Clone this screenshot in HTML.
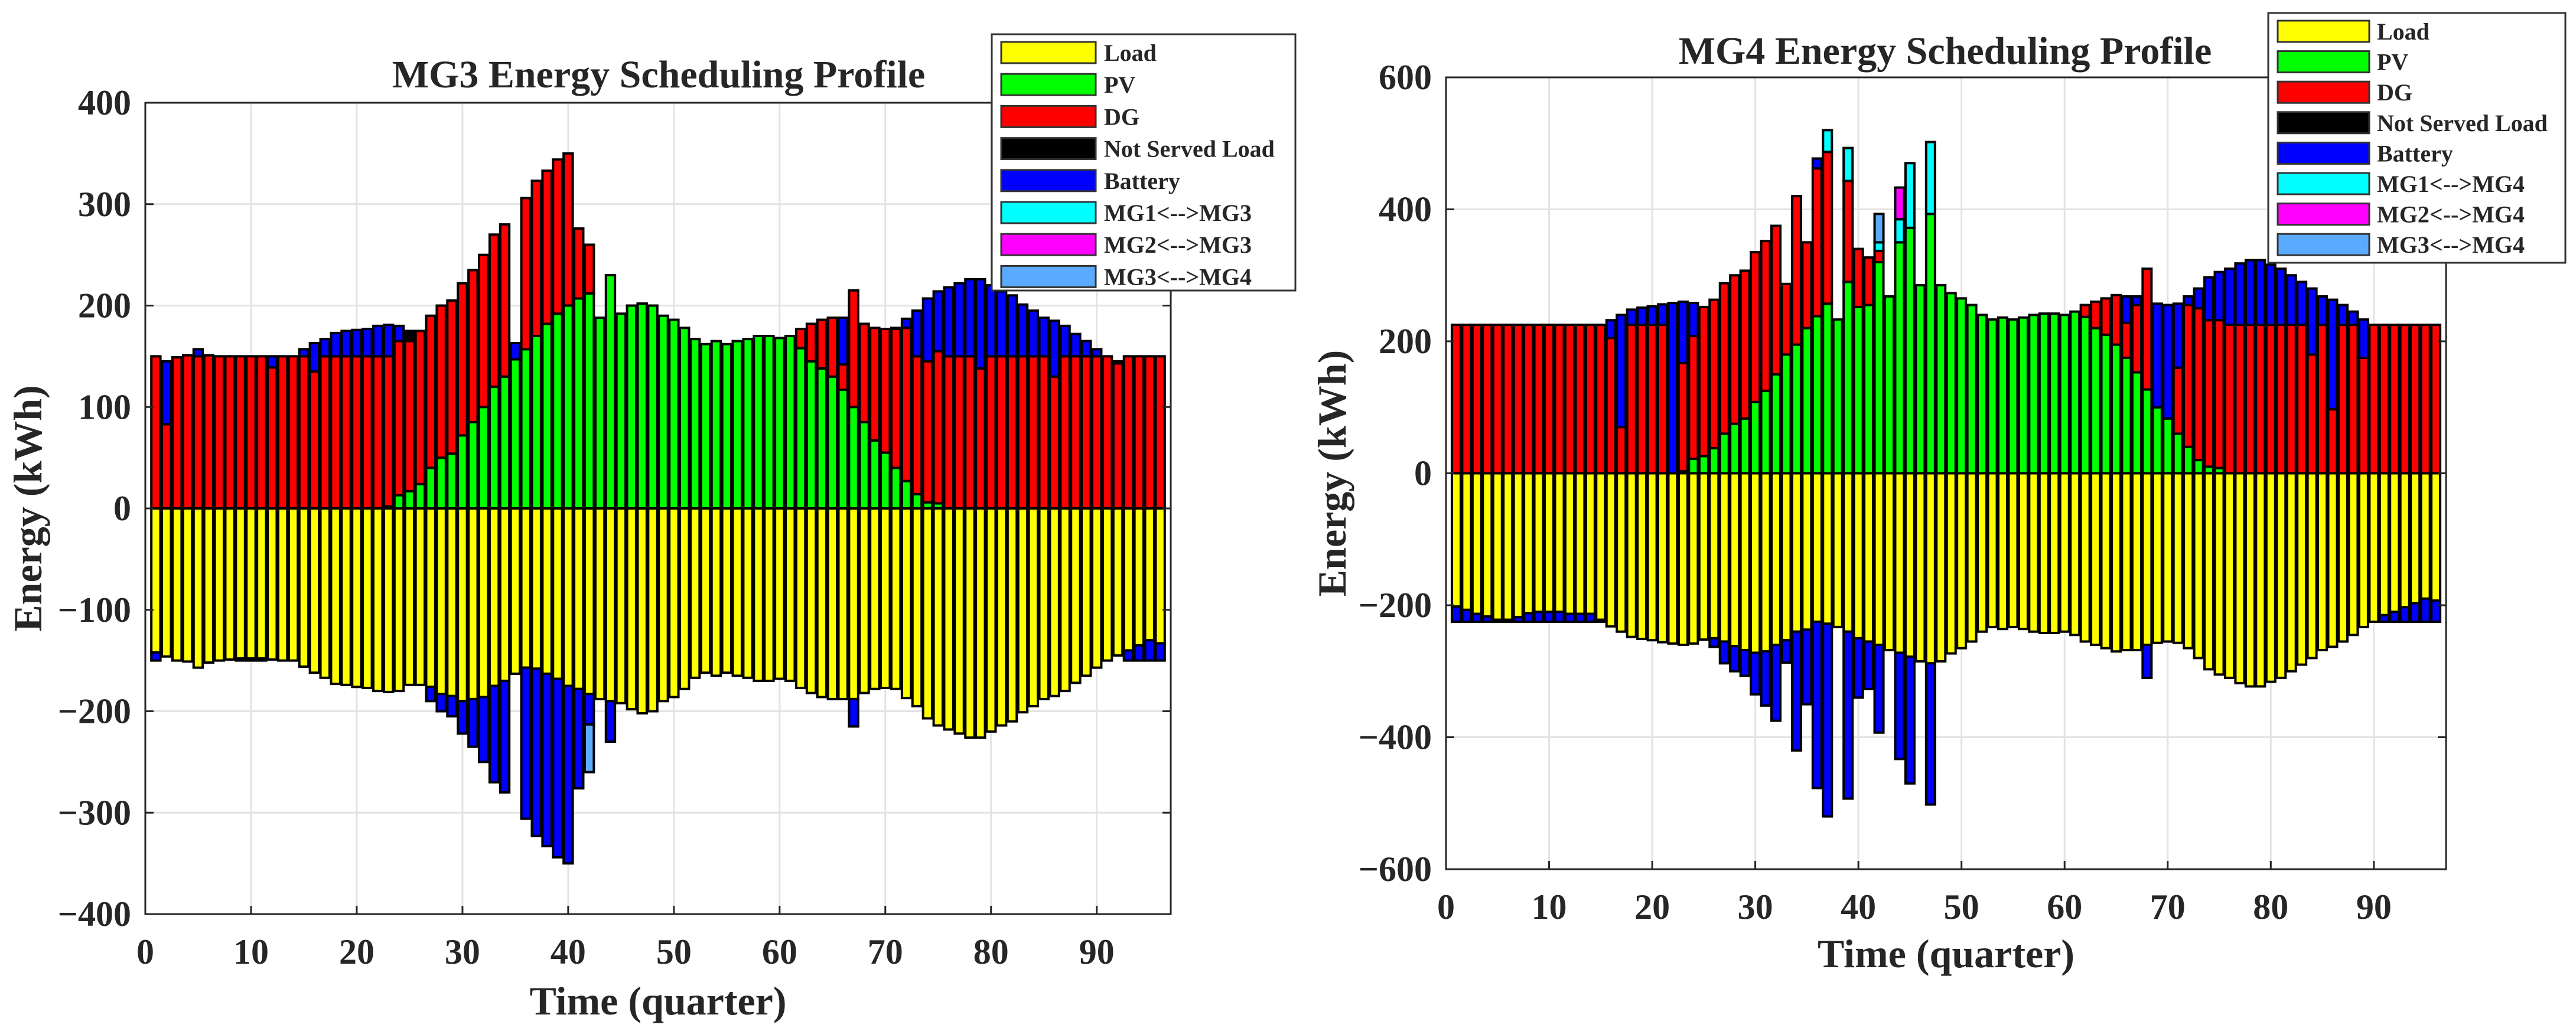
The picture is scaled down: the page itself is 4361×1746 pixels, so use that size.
<!DOCTYPE html>
<html><head><meta charset="utf-8"><style>
html,body{margin:0;padding:0;background:#fff}
svg{display:block}
text{font-family:"Liberation Serif",serif;font-weight:bold;fill:#262626}
</style></head><body>
<svg id="chart" width="4361" height="1746" viewBox="0 0 4361 1746" xmlns="http://www.w3.org/2000/svg">
<rect width="4361" height="1746" fill="#fff"/>
</svg>
<script>
// ---------- MG3 data ----------
const mg3PV=[0,0,0,0,0,0,0,0,0,0,0,0,0,0,0,0,0,0,0,0,0,0,2,13,17,24,40,50,54,72,85,100,120,130,147,157,170,182,192,200,207,212,188,230,192,200,202,200,190,186,178,167,162,165,162,165,167,170,170,168,170,158,145,138,130,117,100,85,67,55,40,27,14,6,5,0,0,0,0,0,0,0,0,0,0,0,0,0,0,0,0,0,0,0,0,0];
const mg3DG=[150,83,149,151,150,151,150,150,150,150,150,139,150,150,150,135,150,150,150,150,150,150,148,152,148,151,150,150,151,150,150,150,150,150,0,149,153,151,152,150,69,48,0,0,0,0,0,0,0,0,0,0,0,0,0,0,0,0,0,0,0,19,37,48,58,25,115,97,111,122,137,151,136,139,150,150,150,150,138,150,150,150,150,150,150,130,150,150,150,150,150,143,150,150,150,150];
const mg3NSL=[0,0,0,0,0,0,0,0,0,0,0,0,0,0,0,0,0,0,0,0,0,0,0,0,10,0,0,0,0,0,0,0,0,0,0,0,0,0,0,0,0,0,0,0,0,0,0,0,0,0,0,0,0,0,0,0,0,0,0,0,0,0,0,0,0,0,0,0,0,0,0,0,0,0,0,0,0,0,0,0,0,0,0,0,0,0,0,0,0,0,0,0,0,0,0,0];
const mg3BatPos=[0,62,0,0,7,0,0,0,0,0,0,11,0,0,7,28,17,23,25,26,27,30,31,15,0,0,0,0,0,0,0,0,0,0,16,0,0,0,0,0,0,0,0,0,0,0,0,0,0,0,0,0,0,0,0,0,0,0,0,0,0,0,0,0,0,46,0,0,0,0,1,9,45,62,59,68,72,76,88,70,64,60,51,45,38,55,30,22,15,7,0,2,0,0,0,0];
const mg3Load=[142,146,150,151,157,152,150,149,148,148,148,149,150,150,156,162,167,173,174,176,177,180,181,180,174,174,176,183,185,190,188,186,175,170,163,157,158,163,168,175,178,183,188,190,192,198,202,200,190,186,178,167,162,165,162,165,167,170,170,168,170,177,182,186,188,188,188,182,178,177,178,187,195,207,214,218,222,226,226,220,214,210,201,195,188,185,180,172,165,157,150,145,140,135,130,133];
const mg3BatNeg=[8,0,0,0,0,0,0,0,2,2,2,0,0,0,0,0,0,0,0,0,0,0,0,0,0,0,14,17,20,32,47,64,95,110,0,149,165,170,176,175,98,30,0,40,0,0,0,0,0,0,0,0,0,0,0,0,0,0,0,0,0,0,0,0,0,0,27,0,0,0,0,0,0,0,0,0,0,0,0,0,0,0,0,0,0,0,0,0,0,0,0,0,10,15,20,17];
const mg3Mg34Neg=[0,0,0,0,0,0,0,0,0,0,0,0,0,0,0,0,0,0,0,0,0,0,0,0,0,0,0,0,0,0,0,0,0,0,0,0,0,0,0,0,0,47,0,0,0,0,0,0,0,0,0,0,0,0,0,0,0,0,0,0,0,0,0,0,0,0,0,0,0,0,0,0,0,0,0,0,0,0,0,0,0,0,0,0,0,0,0,0,0,0,0,0,0,0,0,0];
// ---------- MG4 data ----------
const mg4PV=[0,0,0,0,0,0,0,0,0,0,0,0,0,0,0,0,0,0,0,0,0,0,3,22,26,38,60,75,83,108,125,150,180,195,220,238,257,233,290,252,255,320,268,350,372,285,393,285,273,265,255,240,233,236,233,236,240,242,242,240,245,237,220,210,195,175,153,127,100,83,60,40,20,10,8,0,0,0,0,0,0,0,0,0,0,0,0,0,0,0,0,0,0,0,0,0];
const mg4DG=[225,225,225,225,225,225,225,225,225,225,225,225,225,225,225,205,70,225,225,225,225,0,164,186,226,225,228,225,224,227,227,225,107,225,130,224,230,0,153,88,72,17,0,0,0,0,0,0,0,0,0,0,0,0,0,0,0,0,0,0,0,18,40,55,75,53,102,183,0,0,100,215,230,222,224,225,225,225,225,225,225,225,225,180,225,97,225,225,175,225,225,225,225,225,225,225];
const mg4BatPos=[0,0,0,0,0,0,0,0,0,0,0,0,0,0,0,27,170,23,26,28,31,258,93,50,0,0,0,0,0,0,0,0,0,0,0,15,0,0,0,0,0,0,0,0,0,0,0,0,0,0,0,0,0,0,0,0,0,0,0,0,0,0,0,0,0,40,13,0,157,172,97,13,30,65,73,85,93,98,98,91,85,75,65,100,43,166,30,20,58,0,0,0,0,0,0,0];
const mg4Mg1=[0,0,0,0,0,0,0,0,0,0,0,0,0,0,0,0,0,0,0,0,0,0,0,0,0,0,0,0,0,0,0,0,0,0,0,0,33,0,50,0,0,13,0,35,98,0,109,0,0,0,0,0,0,0,0,0,0,0,0,0,0,0,0,0,0,0,0,0,0,0,0,0,0,0,0,0,0,0,0,0,0,0,0,0,0,0,0,0,0,0,0,0,0,0,0,0];
const mg4Mg2=[0,0,0,0,0,0,0,0,0,0,0,0,0,0,0,0,0,0,0,0,0,0,0,0,0,0,0,0,0,0,0,0,0,0,0,0,0,0,0,0,0,0,0,48,0,0,0,0,0,0,0,0,0,0,0,0,0,0,0,0,0,0,0,0,0,0,0,0,0,0,0,0,0,0,0,0,0,0,0,0,0,0,0,0,0,0,0,0,0,0,0,0,0,0,0,0];
const mg4Mg3=[0,0,0,0,0,0,0,0,0,0,0,0,0,0,0,0,0,0,0,0,0,0,0,0,0,0,0,0,0,0,0,0,0,0,0,0,0,0,0,0,0,43,0,0,0,0,0,0,0,0,0,0,0,0,0,0,0,0,0,0,0,0,0,0,0,0,0,0,0,0,0,0,0,0,0,0,0,0,0,0,0,0,0,0,0,0,0,0,0,0,0,0,0,0,0,0];
const mg4Load=[202,207,213,217,222,222,218,212,210,210,210,213,213,213,222,232,240,248,251,253,256,258,260,258,252,250,255,262,268,272,270,260,253,240,237,225,228,233,240,250,255,260,268,272,278,285,288,285,273,265,255,240,233,236,233,236,240,242,242,240,245,255,260,265,270,268,268,260,257,255,257,265,280,297,305,310,318,323,323,316,310,300,290,280,268,263,255,245,233,225,215,210,203,197,190,193];
const mg4BatNeg=[23,18,12,8,3,3,7,13,15,15,15,12,12,12,3,0,0,0,0,0,0,0,0,0,0,13,33,38,39,63,82,115,34,180,113,252,292,0,253,90,72,133,0,161,192,0,214,0,0,0,0,0,0,0,0,0,0,0,0,0,0,0,0,0,0,0,0,50,0,0,0,0,0,0,0,0,0,0,0,0,0,0,0,0,0,0,0,0,0,0,10,15,22,28,35,32];
// ---------- ticks & legend ----------
const xTicks=[0,10,20,30,40,50,60,70,80,90];
const mg3YTicks=[-400,-300,-200,-100,0,100,200,300,400];
const mg4YTicks=[-600,-400,-200,0,200,400,600];
const mg3Legend=["Load","PV","DG","Not Served Load","Battery","MG1<-->MG3","MG2<-->MG3","MG3<-->MG4"];
const mg4Legend=["Load","PV","DG","Not Served Load","Battery","MG1<-->MG4","MG2<-->MG4","MG3<-->MG4"];
const legendColors=["#ffff00","#00ff00","#ff0000","#000000","#0000ff","#00ffff","#ff00ff","#5aabff"];

const NS="http://www.w3.org/2000/svg";
const svg=document.getElementById('chart');
function mk(tag,attrs,parent){const e=document.createElementNS(NS,tag);for(const k in attrs)e.setAttribute(k,attrs[k]);(parent||svg).appendChild(e);return e;}
function fmt(v){return v<0?'\u2212'+Math.abs(v):String(v);}

function drawChart(c){
  const g=mk('g',{});
  
  
  const X=v=>c.x0+(v-0)/97*(c.x1-c.x0);
  const Y=v=>c.y0-(v-c.ymin)/(c.ymax-c.ymin)*(c.y0-c.y1);
  mk('rect',{x:c.x0,y:c.y1,width:c.x1-c.x0,height:c.y0-c.y1,fill:'#fff'},g);
  xTicks.forEach(t=>{const l=mk('line',{x1:X(t),x2:X(t),y1:c.y1,y2:c.y0,stroke:'#e3e3e3','stroke-width':3},g);});
  c.yTicks.forEach(t=>{const l=mk('line',{x1:c.x0,x2:c.x1,y1:Y(t),y2:Y(t),stroke:'#e3e3e3','stroke-width':3},g);});
  const bw=(X(1)-X(0))*0.86;
  function bar(t,a,b,col){
    if(Math.abs(b-a)<0.01)return;
    const y=Math.min(Y(a),Y(b)),h=Math.abs(Y(a)-Y(b));
    const r=mk('rect',{x:X(t)-bw/2,y:y,width:bw,height:h,fill:col,stroke:'#000','stroke-width':4},g);
    
    
  }
  for(let i=0;i<96;i++){
    const t=i+1;let cum=0;
    c.pos.forEach(s=>{const v=s.d[i];bar(t,cum,cum+v,s.c);cum+=v;});
    cum=0;
    c.neg.forEach(s=>{const v=s.d[i];bar(t,cum,cum-v,s.c);cum-=v;});
  }
  const z=mk('line',{x1:c.x0,x2:c.x1,y1:Y(0),y2:Y(0),stroke:'#000','stroke-width':3},g);
  
  const ax=mk('rect',{x:c.x0,y:c.y1,width:c.x1-c.x0,height:c.y0-c.y1,fill:'none',stroke:'#262626','stroke-width':3},g);
  
  xTicks.forEach(t=>{
    mk('line',{x1:X(t),x2:X(t),y1:c.y0,y2:c.y0-14,stroke:'#262626','stroke-width':3},g);
    const tx=mk('text',{x:X(t),y:c.y0+84,'text-anchor':'middle','font-size':60},g);tx.textContent=t;
    
  });
  c.yTicks.forEach(t=>{
    mk('line',{x1:c.x0,x2:c.x0+14,y1:Y(t),y2:Y(t),stroke:'#262626','stroke-width':3},g);
    mk('line',{x1:c.x1,x2:c.x1-14,y1:Y(t),y2:Y(t),stroke:'#262626','stroke-width':3},g);
    const tx=mk('text',{x:c.x0-24,y:Y(t)+20,'text-anchor':'end','font-size':60},g);tx.textContent=fmt(t);
    
  });
  const ti=mk('text',{x:c.tx,y:c.ty,'text-anchor':'middle','font-size':66,fill:'#000'},g);ti.textContent=c.title;
  
  const xl=mk('text',{x:(c.x0+c.x1)/2,y:c.xly,'text-anchor':'middle','font-size':68},g);xl.textContent='Time (quarter)';
  
  const yc=(c.y0+c.y1)/2;
  const yl=mk('text',{x:c.ylx,y:yc,'text-anchor':'middle','font-size':68,transform:`rotate(-90 ${c.ylx} ${yc})`},g);yl.textContent='Energy (kWh)';
  
  const L=c.leg;
  const lg=mk('g',{},g);
  
  mk('rect',{x:L.x0,y:L.y0,width:L.x1-L.x0,height:L.y1-L.y0,fill:'#fff',stroke:'#333','stroke-width':3},lg);
  c.legend.forEach((name,i)=>{
    const cy=L.first+i*L.step;
    const sw=mk('rect',{x:L.sx0,y:cy-18,width:L.sx1-L.sx0,height:36,fill:legendColors[i],stroke:'#333','stroke-width':3},lg);
    
    const tx=mk('text',{x:L.tx,y:cy+14,'font-size':40,fill:'#000'},lg);tx.textContent=name;
    
  });
}

drawChart({name:'mg3-chart',title:'MG3 Energy Scheduling Profile',x0:246,x1:1982,y1:174,y0:1548,ymin:-400,ymax:400,yTicks:mg3YTicks,
  tx:1115,ty:148,xly:1718,ylx:70,
  pos:[{d:mg3PV,c:'#00ff00'},{d:mg3DG,c:'#ff0000'},{d:mg3NSL,c:'#000000'},{d:mg3BatPos,c:'#0000ff'}],
  neg:[{d:mg3Load,c:'#ffff00'},{d:mg3BatNeg,c:'#0000ff'},{d:mg3Mg34Neg,c:'#5aabff'}],
  legend:mg3Legend,leg:{x0:1679,x1:2193,y0:58,y1:492,first:89,step:54.2,sx0:1695,sx1:1855,tx:1869}});
drawChart({name:'mg4-chart',title:'MG4 Energy Scheduling Profile',x0:2448,x1:4141,y1:131,y0:1472,ymin:-600,ymax:600,yTicks:mg4YTicks,
  tx:3293,ty:108,xly:1638,ylx:2278,
  pos:[{d:mg4PV,c:'#00ff00'},{d:mg4DG,c:'#ff0000'},{d:mg4BatPos,c:'#0000ff'},{d:mg4Mg1,c:'#00ffff'},{d:mg4Mg2,c:'#ff00ff'},{d:mg4Mg3,c:'#5aabff'}],
  neg:[{d:mg4Load,c:'#ffff00'},{d:mg4BatNeg,c:'#0000ff'}],
  legend:mg4Legend,leg:{x0:3840,x1:4343,y0:22,y1:445,first:53,step:51.6,sx0:3856,sx1:4011,tx:4024}});
</script>
</body></html>
